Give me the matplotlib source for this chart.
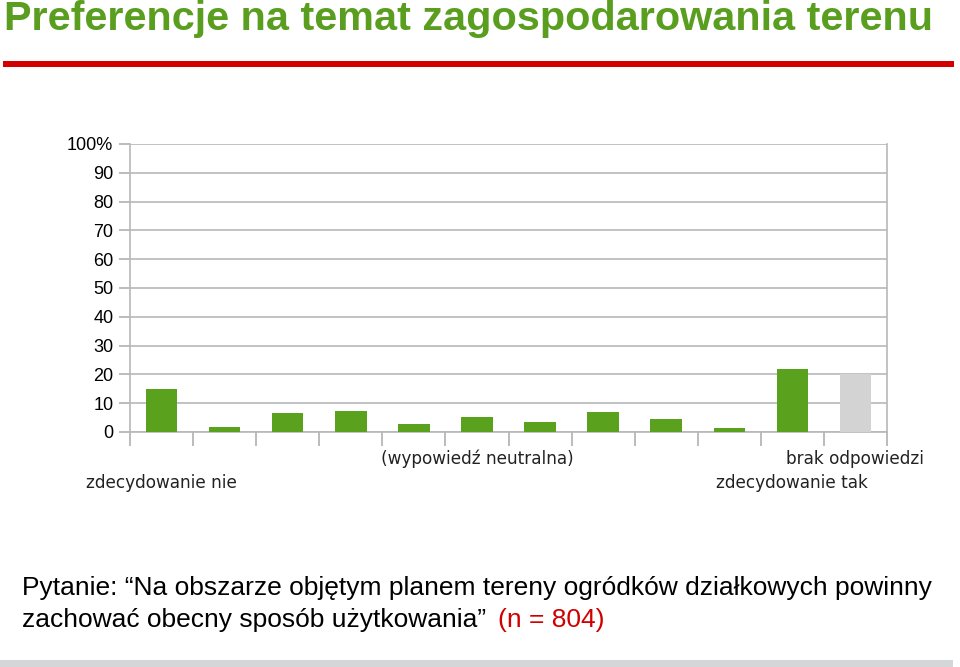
import matplotlib
matplotlib.use("Agg")
import matplotlib.pyplot as plt
import matplotlib.transforms as mtransforms
from matplotlib.patches import Rectangle
import numpy as np

# ---- data ----
values = [15.0, 1.6, 6.5, 7.2, 2.7, 5.2, 3.4, 7.0, 4.4, 1.3, 21.9, 20.0]
categories = ["zdecydowanie nie", "", "", "", "", "(wypowiedź neutralna)",
              "", "", "", "", "zdecydowanie tak", "brak odpowiedzi"]
bar_colors = ["#5aa21e"] * 11 + ["#d3d3d3"]
yticks = [0, 10, 20, 30, 40, 50, 60, 70, 80, 90, 100]
ytick_labels = ["0", "10", "20", "30", "40", "50", "60", "70", "80", "90", "100%"]
title = "Preferencje na temat zagospodarowania terenu"
question_1 = "Pytanie: \u201cNa obszarze objętym planem tereny ogródków działkowych powinny"
question_2 = "zachować obecny sposób użytkowania\u201d"
n_text = "(n = 804)"

W, H = 960, 667
fig = plt.figure(figsize=(W / 100, H / 100), dpi=100)

# title
fig.text(4 / W, 1 - 19 / H, title, color="#5a9e1f", fontsize=29.8,
         fontweight="bold", family="Liberation Sans",
         ha="left", va="center")
# red rule
fig.patches.append(Rectangle((3 / W, 1 - 67 / H), 951 / W, 6 / H,
                             transform=fig.transFigure, color="#d20000", lw=0))
# bottom grey band
fig.patches.append(Rectangle((0, 0), 953 / W, 7 / H,
                             transform=fig.transFigure, color="#d3d7d7", lw=0))

# chart
ax = fig.add_axes([130 / W, 1 - 432 / H, (887 - 130) / W, (432 - 144) / H])
x = np.arange(len(values))
ax.bar(x, values, width=0.5, color=bar_colors, zorder=3)
ax.set_xlim(-0.5, len(values) - 0.5)
ax.set_ylim(0, 100)
ax.set_yticks(yticks)
ax.set_yticklabels(ytick_labels, family="Liberation Sans", fontsize=13)
ax.yaxis.grid(True, color="#b8b8b8", lw=1.2, zorder=0)
ax.tick_params(axis="y", length=8, width=1.2, color="#b0b0b0", pad=4)

# category boundary ticks
ax.set_xticks(np.arange(-0.5, len(values) + 0.5, 1.0))
ax.set_xticklabels([])
ax.tick_params(axis="x", length=10, width=1.2, color="#b0b0b0", direction="out")

# staggered category labels
trans = mtransforms.blended_transform_factory(ax.transData, ax.transAxes)
row_y = {1: (432 - 459) / 288, 0: (432 - 483) / 288}
for i, c in enumerate(categories):
    if c:
        ax.text(i, row_y[i % 2], c, transform=trans, ha="center", va="center",
                family="DejaVu Sans", fontsize=12.2, color="#222222")

for s in ["left", "right", "bottom", "top"]:
    ax.spines[s].set_color("#b8b8b8")
    ax.spines[s].set_linewidth(1.2)
ax.spines["top"].set_visible(False)

# question text
fs = 19.0
t1 = fig.text(22 / W, 1 - 588 / H, question_1, fontsize=fs, family="Liberation Sans",
              color="black", ha="left", va="center")
t2 = fig.text(22 / W, 1 - 620 / H, question_2, fontsize=fs, family="Liberation Sans",
              color="black", ha="left", va="center")
fig.canvas.draw()
bb = t2.get_window_extent()
fig.text((bb.x1 + 12) / W, 1 - 620 / H, n_text, fontsize=fs, family="Liberation Sans",
         color="#d00000", ha="left", va="center")

fig.savefig("out.png", dpi=100)
